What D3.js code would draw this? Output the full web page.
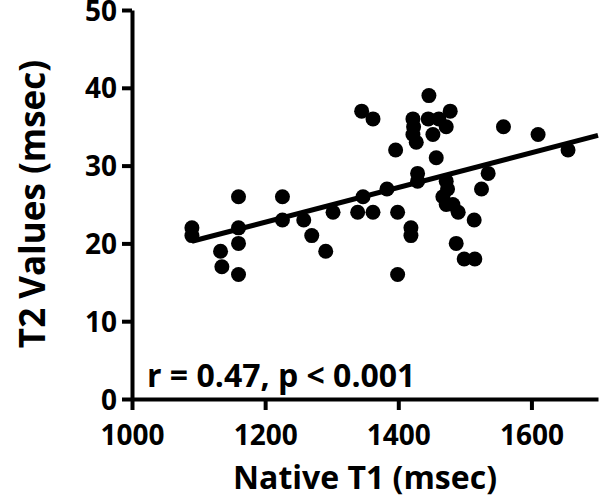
<!DOCTYPE html>
<html>
<head>
<meta charset="utf-8">
<script src="https://cdn.jsdelivr.net/npm/d3@7"></script>
<style>
  html, body { margin: 0; padding: 0; background: #fff; }
</style>
</head>
<body>
<div id="canvas"></div>
<script>
// values: native T1 (msec) and T2 (msec)
const t1 = [1090, 1090, 1133, 1135, 1160, 1160, 1160, 1160, 1226, 1226,
    1258, 1270, 1291, 1302, 1339, 1345, 1347, 1362, 1362, 1383,
    1396, 1399, 1399, 1419, 1419, 1422, 1423, 1422, 1427, 1429,
    1429, 1446, 1445, 1452, 1457, 1461, 1472, 1478, 1472, 1474,
    1467, 1472, 1482, 1490, 1487, 1499, 1515, 1514, 1525, 1535,
    1558, 1610, 1655];
const t2 = [22, 21, 19, 17, 26, 22, 20, 16, 26, 23,
    23, 21, 19, 24, 24, 37, 26, 36, 24, 27,
    32, 24, 16, 22, 21, 36, 35, 34, 33, 29,
    28, 39, 36, 34, 31, 36, 35, 37, 28, 27,
    26, 25, 25, 24, 20, 18, 18, 23, 27, 29,
    35, 34, 32];
const xTicks = [1000, 1200, 1400, 1600];
const yTicks = [0, 10, 20, 30, 40, 50];
const stats = 'r = 0.47, p < 0.001';

const w = 600,
    h = 498,
    mLeft = 132,
    mTop = 10,
    mRight = 598,
    mBottom = 399,
    font = '"Open Sans", Lato, sans-serif',
    svg = d3.select('#canvas').append('svg')
        .attr('width', w)
        .attr('height', h);

const x = d3.scaleLinear().domain([1000, 1700]).range([mLeft, mRight]);
const y = d3.scaleLinear().domain([0, 50]).range([mBottom, mTop]);

// least squares fit, drawn from the lowest T1 to the end of the axis
const mx = d3.mean(t1), my = d3.mean(t2);
const slope = d3.sum(t1, (v, i) => (v - mx) * (t2[i] - my)) / d3.sum(t1, v => (v - mx) * (v - mx));
const icpt = my - slope * mx;
const fitX = [d3.min(t1), 1700];

svg.append('line')
    .attr('x1', x(fitX[0]))
    .attr('y1', y(icpt + slope * fitX[0]))
    .attr('x2', x(fitX[1]))
    .attr('y2', y(icpt + slope * fitX[1]))
    .attr('stroke', '#000')
    .attr('stroke-width', 5);

svg.append('g')
    .selectAll('circle')
    .data(t1)
    .join('circle')
    .attr('cx', d => x(d))
    .attr('cy', (d, i) => y(t2[i]))
    .attr('r', 7.5)
    .attr('fill', '#000');

function axisStyle(g) {
    g.select('.domain').attr('stroke-width', 4).attr('stroke', '#000');
    g.selectAll('.tick line').attr('stroke-width', 4).attr('stroke', '#000');
    g.selectAll('.tick text')
        .attr('font-family', font)
        .attr('font-weight', 700)
        .attr('font-size', '28px')
        .attr('fill', '#000');
}

svg.append('g')
    .attr('transform', 'translate(0,' + mBottom + ')')
    .call(d3.axisBottom(x).tickValues(xTicks).tickFormat(d3.format('d'))
        .tickSizeInner(11).tickSizeOuter(0).tickPadding(15))
    .call(axisStyle);

svg.append('g')
    .attr('transform', 'translate(' + mLeft + ',0)')
    .call(d3.axisLeft(y).tickValues(yTicks).tickSizeInner(10).tickSizeOuter(0).tickPadding(5))
    .call(axisStyle)
    .call(g => g.selectAll('.tick text').attr('dy', '0.36em'));

svg.append('text')
    .attr('x', 147)
    .attr('y', 387)
    .attr('font-family', font)
    .attr('font-weight', 700)
    .attr('font-size', '32px')
    .text(stats);

svg.append('text')
    .attr('x', 365)
    .attr('y', 489)
    .attr('text-anchor', 'middle')
    .attr('font-family', font)
    .attr('font-weight', 700)
    .attr('font-size', '32px')
    .text('Native T1 (msec)');

svg.append('text')
    .attr('transform', 'translate(45,204)rotate(-90)')
    .attr('text-anchor', 'middle')
    .attr('font-family', font)
    .attr('font-weight', 700)
    .attr('font-size', '35px')
    .text('T2 Values (msec)');
</script>
</body>
</html>
